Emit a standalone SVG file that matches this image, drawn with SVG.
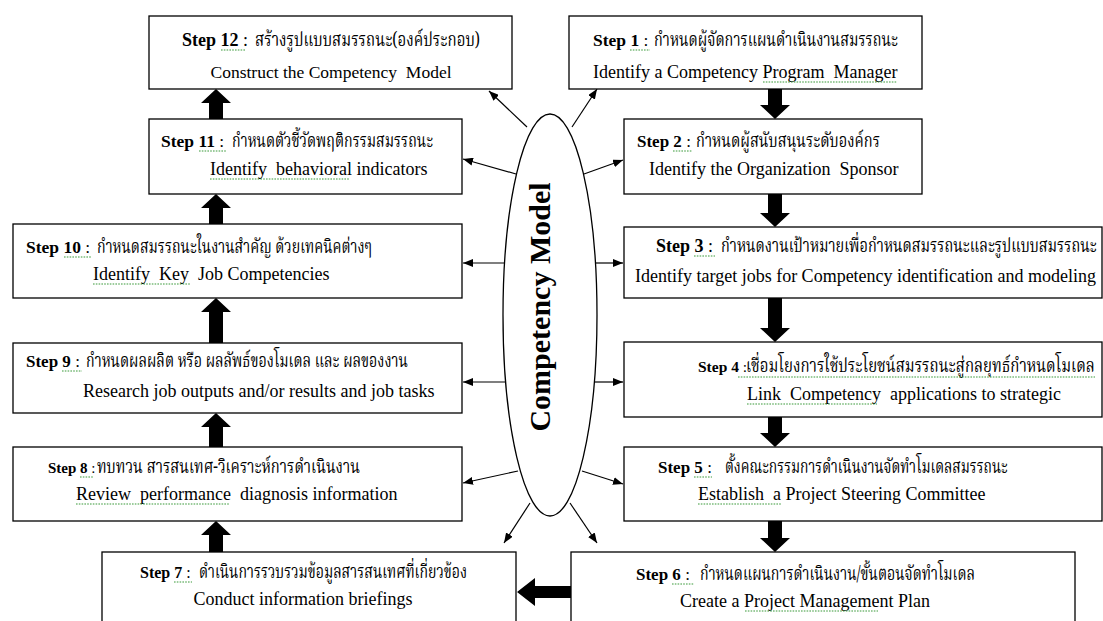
<svg xmlns="http://www.w3.org/2000/svg" width="1103" height="621" viewBox="0 0 1103 621">
<style>
.box{fill:#fff;stroke:#000;stroke-width:1.3}
text{font-family:"Liberation Serif","Times New Roman",serif;font-size:18px;fill:#000;white-space:pre}
.b{font-weight:bold}
.th{font-family:"Noto Serif Thai","Noto Sans Thai","Tlwg Typo","Loma","Garuda","Liberation Serif",serif;font-size:19px}
.ln{stroke:#000;stroke-width:1.2;fill:none;marker-end:url(#ah)}
.blk{fill:#000}
.title{font-size:30px;font-weight:bold}
.sq{stroke:#3a9a3a;stroke-width:1.1;fill:none;stroke-dasharray:1.6 1.2}
</style>
<defs>
<marker id="ah" markerUnits="userSpaceOnUse" markerWidth="10" markerHeight="8" refX="10" refY="4" orient="auto">
<path d="M0,0 L10,4 L0,8 z" fill="#000"/>
</marker>
</defs>
<rect width="1103" height="621" fill="#fff"/>

<g id="connectors">
<path class="ln" d="M527,127 L489,91"/>
<path class="ln" d="M572,127 L597,89"/>
<path class="ln" d="M516,174 L463,159"/>
<path class="ln" d="M584,174 L623,160"/>
<path class="ln" d="M505,263 L463,263"/>
<path class="ln" d="M595,263 L623,263"/>
<path class="ln" d="M505,382 L463,382"/>
<path class="ln" d="M595,382 L623,382"/>
<path class="ln" d="M518,471 L463,483"/>
<path class="ln" d="M582,471 L623,484"/>
<path class="ln" d="M530,503 L504,543"/>
<path class="ln" d="M570,503 L597,543"/>
<path class="blk" d="M768,89 L768,105 L760,105 L775,119 L790,105 L782,105 L782,89 Z"/>
<path class="blk" d="M768,194 L768,213 L760,213 L775,227 L790,213 L782,213 L782,194 Z"/>
<path class="blk" d="M768,298 L768,328 L760,328 L775,342 L790,328 L782,328 L782,298 Z"/>
<path class="blk" d="M768,417 L768,433 L760,433 L775,447 L790,433 L782,433 L782,417 Z"/>
<path class="blk" d="M768,521 L768,538 L760,538 L775,552 L790,538 L782,538 L782,521 Z"/>
<path class="blk" d="M209,119 L209,103 L201,103 L216,89 L231,103 L223,103 L223,119 Z"/>
<path class="blk" d="M209,224 L209,208 L201,208 L216,194 L231,208 L223,208 L223,224 Z"/>
<path class="blk" d="M209,343 L209,312 L201,312 L216,298 L231,312 L223,312 L223,343 Z"/>
<path class="blk" d="M209,447 L209,427 L201,427 L216,413 L231,427 L223,427 L223,447 Z"/>
<path class="blk" d="M209,552 L209,535 L201,535 L216,521 L231,535 L223,535 L223,552 Z"/>
<path class="blk" d="M571,586 L535,586 L535,578 L517,592 L535,606 L535,598 L571,598 Z"/>
</g>

<g id="center">
<ellipse cx="550" cy="315" rx="47" ry="201" fill="#fff" stroke="#000" stroke-width="1.3"/>
<text class="title" transform="translate(550,307) rotate(-90)" text-anchor="middle">Competency Model</text>
</g>

<g id="step12">
<rect class="box" x="149" y="16" width="363" height="73"/>
<text x="182" y="46" style="font-size:18px"><tspan class="b">Step 12</tspan> :</text>
<text class="th" x="255" y="46" textLength="225" lengthAdjust="spacingAndGlyphs">สร้างรูปแบบสมรรถนะ(องค์ประกอบ)</text>
<text x="331" y="78" text-anchor="middle" style="font-size:17.5px">Construct the Competency  Model</text>
<path class="sq" d="M221,50 L245,50"/>
</g>

<g id="step1">
<rect class="box" x="569" y="16" width="353" height="73"/>
<text x="593" y="46" style="font-size:17.5px"><tspan class="b">Step 1</tspan> :</text>
<text class="th" x="654" y="46" textLength="244" lengthAdjust="spacingAndGlyphs">กำหนดผู้จัดการแผนดำเนินงานสมรรถนะ</text>
<text x="593" y="78">Identify a Competency Program  Manager</text>
<path class="sq" d="M630,50 L650,50"/>
<path class="sq" d="M763,82 L897,82"/>
</g>

<g id="step11">
<rect class="box" x="149" y="119" width="313" height="75"/>
<text x="161" y="147" style="font-size:17.5px"><tspan class="b">Step 11</tspan> :</text>
<text class="th" x="232" y="147" textLength="201" lengthAdjust="spacingAndGlyphs">กำหนดตัวชี้วัดพฤติกรรมสมรรถนะ</text>
<text x="210" y="175">Identify  behavioral indicators</text>
<path class="sq" d="M199,151 L226,151"/>
<path class="sq" d="M210,179 L350,179"/>
</g>

<g id="step2">
<rect class="box" x="624" y="119" width="298" height="75"/>
<text x="637" y="147" style="font-size:17px"><tspan class="b">Step 2</tspan> :</text>
<text class="th" x="696" y="147" textLength="184" lengthAdjust="spacingAndGlyphs">กำหนดผู้สนับสนุนระดับองค์กร</text>
<text x="649" y="175">Identify the Organization  Sponsor</text>
<path class="sq" d="M673,151 L692,151"/>
</g>

<g id="step10">
<rect class="box" x="13" y="224" width="449" height="74"/>
<text x="26" y="253" style="font-size:17.5px"><tspan class="b">Step 10</tspan> :</text>
<text class="th" x="97" y="253" textLength="275" lengthAdjust="spacingAndGlyphs">กำหนดสมรรถนะในงานสำคัญ ด้วยเทคนิคต่างๆ</text>
<text x="93" y="280">Identify  Key  Job Competencies</text>
<path class="sq" d="M64,257 L91,257"/>
<path class="sq" d="M93,284 L190,284"/>
</g>

<g id="step3">
<rect class="box" x="624" y="227" width="478" height="71"/>
<text x="656" y="252" style="font-size:18px"><tspan class="b">Step 3</tspan> :</text>
<text class="th" transform="translate(721,252) scale(0.75,1)" x="0" y="0" textLength="501" lengthAdjust="spacingAndGlyphs">กำหนดงานเป้าหมายเพื่อกำหนดสมรรถนะและรูปแบบสมรรถนะ</text>
<text x="635" y="282">Identify target jobs for Competency identification and modeling</text>
<path class="sq" d="M694,256 L715,256"/>
</g>

<g id="step9">
<rect class="box" x="13" y="343" width="449" height="70"/>
<text x="26" y="367" style="font-size:17px"><tspan class="b">Step 9</tspan> :</text>
<text class="th" x="86" y="367" textLength="322" lengthAdjust="spacingAndGlyphs">กำหนดผลผลิต หรือ ผลลัพธ์ของโมเดล และ ผลของงาน</text>
<text x="83" y="397">Research job outputs and/or results and job tasks</text>
<path class="sq" d="M62,371 L82,371"/>
</g>

<g id="step4">
<rect class="box" x="624" y="342" width="478" height="75"/>
<text x="698" y="372" style="font-size:15.5px"><tspan class="b">Step 4</tspan> :</text>
<text class="th" transform="translate(746,372) scale(0.75,1)" x="0" y="0" textLength="465" lengthAdjust="spacingAndGlyphs">เชื่อมโยงการใช้ประโยชน์สมรรถนะสู่กลยุทธ์กำหนดโมเดล</text>
<text x="747" y="400">Link  Competency  applications to strategic</text>
<path class="sq" d="M738,377 L1095,377"/>
<path class="sq" d="M747,404 L877,404"/>
</g>

<g id="step8">
<rect class="box" x="13" y="447" width="449" height="74"/>
<text x="48" y="473" style="font-size:15px"><tspan class="b">Step 8</tspan> :</text>
<text class="th" x="97" y="473" textLength="263" lengthAdjust="spacingAndGlyphs">ทบทวน สารสนเทศ-วิเคราะห์การดำเนินงาน</text>
<text x="76" y="500">Review  performance  diagnosis information</text>
<path class="sq" d="M80,477 L94,477"/>
<path class="sq" d="M76,504 L230,504"/>
</g>

<g id="step5">
<rect class="box" x="624" y="447" width="478" height="74"/>
<text x="658" y="473" style="font-size:17px"><tspan class="b">Step 5</tspan> :</text>
<text class="th" transform="translate(725,473) scale(0.75,1)" x="0" y="0" textLength="377" lengthAdjust="spacingAndGlyphs">ตั้งคณะกรรมการดำเนินงานจัดทำโมเดลสมรรถนะ</text>
<text x="698" y="500">Establish  a Project Steering Committee</text>
<path class="sq" d="M694,477 L712,477"/>
<path class="sq" d="M698,504 L782,504"/>
</g>

<g id="step7">
<rect class="box" x="102" y="552" width="414" height="80"/>
<text x="140" y="578" style="font-size:16px"><tspan class="b">Step 7</tspan> :</text>
<text class="th" x="199" y="578" textLength="268" lengthAdjust="spacingAndGlyphs">ดำเนินการรวบรวมข้อมูลสารสนเทศที่เกี่ยวข้อง</text>
<text x="303" y="605" text-anchor="middle">Conduct information briefings</text>
<path class="sq" d="M174,582 L192,582"/>
</g>

<g id="step6">
<rect class="box" x="571" y="552" width="504" height="80"/>
<text x="636" y="580" style="font-size:17px"><tspan class="b">Step 6</tspan> :</text>
<text class="th" x="700" y="580" textLength="275" lengthAdjust="spacingAndGlyphs">กำหนดแผนการดำเนินงาน/ขั้นตอนจัดทำโมเดล</text>
<text x="680" y="607">Create a Project Management Plan</text>
<path class="sq" d="M672,584 L694,584"/>
<path class="sq" d="M745,611 L878,611"/>
</g>
</svg>
